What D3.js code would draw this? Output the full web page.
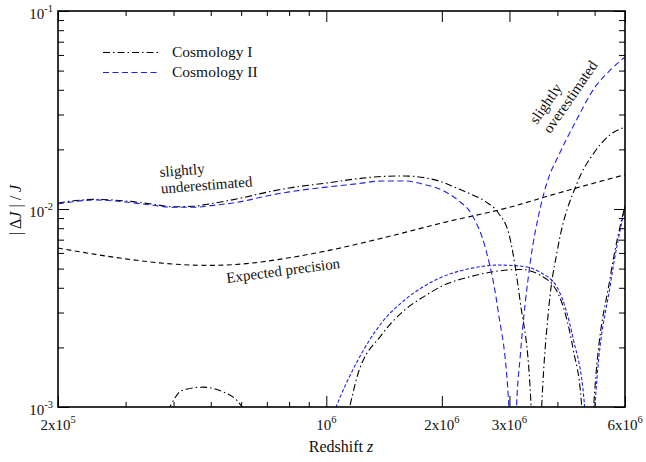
<!DOCTYPE html>
<html>
<head>
<meta charset="utf-8">
<script src="https://cdn.jsdelivr.net/npm/d3@7"></script>
<style>
  html, body { margin: 0; padding: 0; background: #fff; }
  svg { display: block; font-family: "Liberation Serif", "Times New Roman", serif; }
</style>
</head>
<body>
<svg id="chart" width="646" height="462"></svg>
<script>
// ---- Data: redshift z and fractional error |ΔJ|/J ----
// Expected precision of the measurement
const expectedPrecision = [
  [2e5, 0.00635], [2.5e5, 0.0059], [3e5, 0.0056], [4e5, 0.00527], [5e5, 0.00519],
  [6e5, 0.00527], [8e5, 0.00567], [1e6, 0.00614], [1.4e6, 0.00713], [2e6, 0.0085],
  [3e6, 0.0102], [4e6, 0.0120], [6e6, 0.0149]
];
// Cosmology I, leading branch (changes sign near 3.5x10^6)
const cosmoIMain = [
  [2e5, 0.01072], [2.5e5, 0.01118], [3e5, 0.01098], [3.5e5, 0.0106], [4e5, 0.01026],
  [4.5e5, 0.01032], [5e5, 0.01064], [6e5, 0.01136], [7e5, 0.01216], [8e5, 0.01277],
  [1e6, 0.01352], [1.2e6, 0.0142], [1.4e6, 0.01461], [1.6e6, 0.01468], [1.8e6, 0.0144],
  [2e6, 0.0137], [2.2e6, 0.0127], [2.4e6, 0.0118], [2.6e6, 0.0109], [2.8e6, 0.0096],
  [3e6, 0.0073], [3.2e6, 0.0034], [3.4e6, 0.0012], [3.53e6, 0.0002], [3.64e6, 0.001],
  [3.8e6, 0.0032], [4e6, 0.0062], [4.5e6, 0.0135], [5e6, 0.0194], [5.5e6, 0.0238],
  [6e6, 0.0259]
];
// Cosmology II, leading branch (changes sign near 3.06x10^6)
const cosmoIIMain = [
  [2e5, 0.0106], [2.5e5, 0.0111], [3e5, 0.01085], [3.5e5, 0.01047], [4e5, 0.0102],
  [4.5e5, 0.0102], [5e5, 0.0104], [6e5, 0.0109], [7e5, 0.01164], [8e5, 0.0122],
  [1e6, 0.0129], [1.2e6, 0.0134], [1.4e6, 0.01385], [1.6e6, 0.01385], [1.8e6, 0.0133],
  [2e6, 0.01247], [2.2e6, 0.0111], [2.4e6, 0.0093], [2.6e6, 0.0063], [2.8e6, 0.0031],
  [2.99e6, 0.001], [3.06e6, 0.0002], [3.13e6, 0.001], [3.2e6, 0.0018], [3.4e6, 0.0054],
  [3.6e6, 0.0099], [3.8e6, 0.0145], [4e6, 0.0181], [4.5e6, 0.0285], [5e6, 0.041],
  [5.5e6, 0.0504], [6e6, 0.0586]
];
// Cosmology I, secondary branch
const cosmoISecond = [
  [3.5e5, 0.0006], [3.91e5, 0.001], [4.2e5, 0.00121], [4.77e5, 0.00126], [5.4e5, 0.00119],
  [6.03e5, 0.001], [6.6e5, 0.0006], [8e5, 0.0003], [1e6, 0.0005], [1.15e6, 0.001],
  [1.2e6, 0.0014], [1.4e6, 0.00234], [1.6e6, 0.00309], [1.8e6, 0.00362], [2e6, 0.00408],
  [2.4e6, 0.00458], [2.8e6, 0.00486], [3.2e6, 0.00495], [3.6e6, 0.00464], [4e6, 0.0038],
  [4.4e6, 0.00194], [4.62e6, 0.00105], [4.8e6, 0.0002], [4.97e6, 0.001], [5.5e6, 0.0046],
  [6e6, 0.0104]
];
// Cosmology II, secondary branch
const cosmoIISecond = [
  [9e5, 0.0004], [1.06e6, 0.001], [1.2e6, 0.00168], [1.4e6, 0.00269], [1.6e6, 0.00347],
  [1.8e6, 0.00408], [2e6, 0.00453], [2.4e6, 0.00503], [2.8e6, 0.00521], [3.2e6, 0.00515],
  [3.6e6, 0.0048], [4e6, 0.0040], [4.4e6, 0.0022], [4.7e6, 0.00105], [4.85e6, 0.0002],
  [5.01e6, 0.001], [5.5e6, 0.0042], [6e6, 0.0102]
];

// ---- Axis ticks and labels ----
const xMajorTicks = [2e5, 1e6, 2e6, 3e6, 6e6];
const xMinorTicks = [3e5, 4e5, 5e5, 6e5, 7e5, 8e5, 9e5, 4e6, 5e6];
const xTickLabels = [["2x10", "5"], ["10", "6"], ["2x10", "6"], ["3x10", "6"], ["6x10", "6"]];
const yMajorTicks = [1e-3, 1e-2, 1e-1];
const yMinorTicks = [2e-3, 3e-3, 4e-3, 5e-3, 6e-3, 7e-3, 8e-3, 9e-3,
                     2e-2, 3e-2, 4e-2, 5e-2, 6e-2, 7e-2, 8e-2, 9e-2];
const yTickLabels = [["10", "-3"], ["10", "-2"], ["10", "-1"]];

// ---- Layout ----
const plotLeft = 58, plotRight = 625, plotTop = 11, plotBottom = 407;
const svg = d3.select("#chart");

const x = d3.scaleLog().domain([2e5, 6e6]).range([plotLeft, plotRight]);
const y = d3.scaleLog().domain([1e-3, 1e-1]).range([plotBottom, plotTop]);

svg.append("defs").append("clipPath").attr("id", "plot-clip")
  .append("rect").attr("x", plotLeft).attr("y", plotTop)
  .attr("width", plotRight - plotLeft).attr("height", plotBottom - plotTop);

// ---- Curves ----
const line = d3.line()
  .x(d => x(d[0]))
  .y(d => y(d[1]))
  .curve(d3.curveMonotoneX);

const BLUE = "#1f1ff0";
const dashDot = "7,3,1.5,3";
const blueDash = "6,3.5";

const curves = svg.append("g").attr("clip-path", "url(#plot-clip)")
  .attr("fill", "none").attr("stroke-width", 1.1);

curves.append("path").datum(expectedPrecision).attr("d", line)
  .attr("stroke", "#000").attr("stroke-dasharray", "5,3.5");
curves.append("path").datum(cosmoISecond).attr("d", line)
  .attr("stroke", "#000").attr("stroke-dasharray", dashDot);
curves.append("path").datum(cosmoIISecond).attr("d", line)
  .attr("stroke", BLUE).attr("stroke-dasharray", "3.5,2");
curves.append("path").datum(cosmoIMain).attr("d", line)
  .attr("stroke", "#000").attr("stroke-dasharray", dashDot);
curves.append("path").datum(cosmoIIMain).attr("d", line)
  .attr("stroke", BLUE).attr("stroke-dasharray", blueDash);

// ---- Axes (ticks point inward on all four sides) ----
function styleAxis(g) {
  g.select(".domain").remove();
  g.selectAll(".tick line").attr("stroke", "#000").attr("stroke-width", 1);
  g.selectAll(".tick text").remove();
}
svg.append("g").attr("transform", `translate(0,${plotBottom})`)
  .call(d3.axisBottom(x).tickValues(xMajorTicks).tickSize(-11)).call(styleAxis);
svg.append("g").attr("transform", `translate(0,${plotBottom})`)
  .call(d3.axisBottom(x).tickValues(xMinorTicks).tickSize(-5)).call(styleAxis);
svg.append("g").attr("transform", `translate(0,${plotTop})`)
  .call(d3.axisTop(x).tickValues(xMajorTicks).tickSize(-11)).call(styleAxis);
svg.append("g").attr("transform", `translate(0,${plotTop})`)
  .call(d3.axisTop(x).tickValues(xMinorTicks).tickSize(-5)).call(styleAxis);
svg.append("g").attr("transform", `translate(${plotLeft},0)`)
  .call(d3.axisLeft(y).tickValues(yMajorTicks).tickSize(-11)).call(styleAxis);
svg.append("g").attr("transform", `translate(${plotLeft},0)`)
  .call(d3.axisLeft(y).tickValues(yMinorTicks).tickSize(-6)).call(styleAxis);
svg.append("g").attr("transform", `translate(${plotRight},0)`)
  .call(d3.axisRight(y).tickValues(yMajorTicks).tickSize(-11)).call(styleAxis);
svg.append("g").attr("transform", `translate(${plotRight},0)`)
  .call(d3.axisRight(y).tickValues(yMinorTicks).tickSize(-6)).call(styleAxis);

// Frame
svg.append("rect").attr("x", plotLeft).attr("y", plotTop)
  .attr("width", plotRight - plotLeft).attr("height", plotBottom - plotTop)
  .attr("fill", "none").attr("stroke", "#000").attr("stroke-width", 1.6);

// Tick labels with superscript exponents
xMajorTicks.forEach((v, i) => {
  const t = svg.append("text").attr("x", x(v)).attr("y", 430)
    .attr("text-anchor", "middle").attr("font-size", 15).attr("fill", "#111");
  t.append("tspan").text(xTickLabels[i][0]);
  t.append("tspan").attr("dy", -7).attr("font-size", 10.5).text(xTickLabels[i][1]);
});
yMajorTicks.forEach((v, i) => {
  const t = svg.append("text").attr("x", 53).attr("y", y(v) + 8)
    .attr("text-anchor", "end").attr("font-size", 15).attr("fill", "#111");
  t.append("tspan").text(yTickLabels[i][0]);
  t.append("tspan").attr("dy", -7).attr("font-size", 10.5).text(yTickLabels[i][1]);
});

// Axis titles
const xt = svg.append("text").attr("x", 341).attr("y", 452)
  .attr("text-anchor", "middle").attr("font-size", 16).attr("fill", "#111");
xt.append("tspan").text("Redshift ");
xt.append("tspan").attr("font-style", "italic").text("z");

const yt = svg.append("text").attr("transform", "translate(21,210) rotate(-90)")
  .attr("text-anchor", "middle").attr("font-size", 16).attr("fill", "#111");
yt.append("tspan").text("| Δ");
yt.append("tspan").attr("font-style", "italic").text("J");
yt.append("tspan").text(" | / ");
yt.append("tspan").attr("font-style", "italic").text("J");

// ---- Legend ----
const legend = [
  { label: "Cosmology I", stroke: "#000", dash: dashDot, yPos: 52.5 },
  { label: "Cosmology II", stroke: BLUE, dash: blueDash, yPos: 72.5 }
];
legend.forEach(d => {
  svg.append("line").attr("x1", 103).attr("x2", 160).attr("y1", d.yPos).attr("y2", d.yPos)
    .attr("stroke", d.stroke).attr("stroke-width", 1.1).attr("stroke-dasharray", d.dash);
  svg.append("text").attr("x", 172).attr("y", d.yPos + 4.5)
    .attr("font-size", 15.5).attr("fill", "#111").text(d.label);
});

// ---- Annotations ----
function note(xp, yp, angle, lines) {
  const t = svg.append("text").attr("transform", `translate(${xp},${yp}) rotate(${angle})`)
    .attr("font-size", 15).attr("fill", "#111");
  lines.forEach((s, i) => t.append("tspan").attr("x", 0).attr("dy", i === 0 ? 0 : 16.5).text(s));
}
note(160, 177, -4.4, ["slightly", "underestimated"]);
note(227, 283, -7.5, ["Expected precision"]);
note(537, 125, -55.5, ["slightly", "overestimated"]);
</script>
</body>
</html>
